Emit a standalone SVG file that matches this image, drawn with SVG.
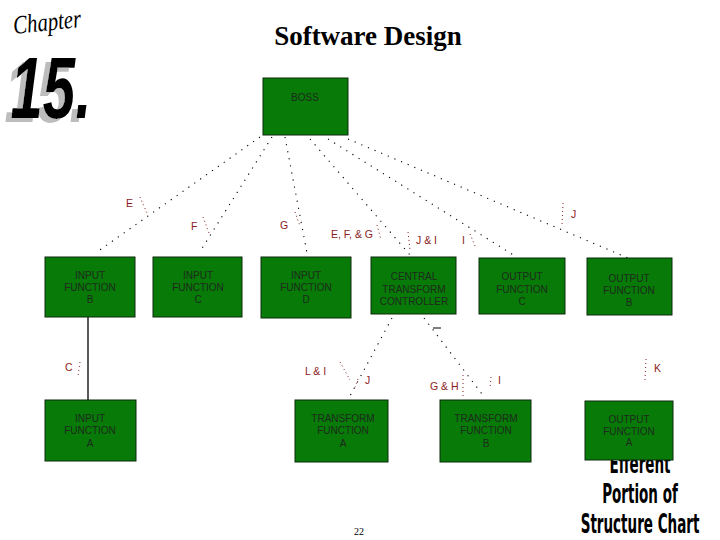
<svg xmlns="http://www.w3.org/2000/svg" width="720" height="540" viewBox="0 0 720 540">
<defs>
  <filter id="shadow" x="-30%" y="-30%" width="160%" height="160%">
    <feFlood flood-color="#bdbdbd" result="g"/>
    <feComposite in="g" in2="SourceAlpha" operator="in" result="gs"/>
    <feOffset in="gs" dx="-9" dy="4" result="off"/>
    <feMerge><feMergeNode in="off"/><feMergeNode in="SourceGraphic"/></feMerge>
  </filter>
</defs>
<style>
.box{fill:#077a07;stroke:#0d2a0d;stroke-width:1}
.bt{font-family:"Liberation Sans",Arial,sans-serif;font-size:10px;fill:#1e2a1e;text-anchor:middle}
.lbl{font-family:"Liberation Sans",Arial,sans-serif;font-size:10.5px;fill:#8b1c1c}
.dot{stroke:#000;stroke-width:1.1;stroke-dasharray:1.2 6;fill:none}
.tick{stroke:#8b1c1c;stroke-width:1;stroke-dasharray:1 3;fill:none}
.solid{stroke:#000;stroke-width:1.3;fill:none}
.eff{font-family:"DejaVu Sans","Liberation Sans",sans-serif;font-weight:bold;font-size:27px;fill:#000;text-anchor:middle}
</style>
<rect width="720" height="540" fill="#fff"/>

<g id="logo">
  <g transform="translate(14,34) rotate(-6) scale(0.8,1)">
    <text x="0" y="0" font-family="Liberation Serif,serif" font-style="italic" font-size="26" fill="#000">Chapter</text>
  </g>
  <g transform="translate(0,118) scale(0.66,1)" filter="url(#shadow)">
    <text x="16" y="0" font-family="Liberation Sans,Arial,sans-serif" font-weight="bold" font-style="italic" font-size="88" fill="#000">15.</text>
  </g>
</g>

<text x="368" y="45" font-family="Liberation Serif,'Times New Roman',serif" font-weight="bold" font-size="27" fill="#000" text-anchor="middle">Software Design</text>

<g id="connectors">
  <line class="dot" x1="260" y1="137" x2="97" y2="252"/>
  <line class="dot" x1="272" y1="137" x2="201" y2="250"/>
  <line class="dot" x1="285" y1="137" x2="307" y2="253"/>
  <line class="dot" x1="310" y1="139" x2="410" y2="255"/>
  <line class="dot" x1="328" y1="139" x2="515" y2="256"/>
  <line class="dot" x1="348" y1="139" x2="628" y2="258"/>
  <line class="solid" x1="88" y1="317" x2="88" y2="400"/>
  <line class="dot" x1="392" y1="318" x2="350" y2="396"/>
  <line class="dot" x1="424" y1="318" x2="485" y2="398"/>
  <line x1="433" y1="328" x2="441" y2="328" stroke="#000" stroke-width="1"/>
  <line class="tick" x1="140" y1="197" x2="147" y2="213"/>
  <line class="tick" x1="203" y1="217" x2="209" y2="233"/>
  <line class="tick" x1="295" y1="212" x2="300" y2="226"/>
  <line class="tick" x1="377" y1="225" x2="381" y2="240"/>
  <line class="tick" x1="408" y1="232" x2="410" y2="250"/>
  <line class="tick" x1="470" y1="234" x2="476" y2="248"/>
  <line class="tick" x1="563" y1="203" x2="562" y2="225"/>
  <line class="tick" x1="80" y1="362" x2="78" y2="376"/>
  <line class="tick" x1="340" y1="362" x2="350" y2="380"/>
  <line class="tick" x1="358" y1="379" x2="354" y2="390"/>
  <line class="tick" x1="463" y1="375" x2="463" y2="397"/>
  <line class="tick" x1="491" y1="377" x2="490" y2="389"/>
  <line class="tick" x1="646" y1="359" x2="645" y2="380"/>
</g>

<g id="labels">
  <text class="lbl" x="126" y="207">E</text>
  <text class="lbl" x="191" y="230">F</text>
  <text class="lbl" x="280" y="229">G</text>
  <text class="lbl" x="331" y="238">E, F, &amp; G</text>
  <text class="lbl" x="416" y="244">J &amp; I</text>
  <text class="lbl" x="462" y="244">I</text>
  <text class="lbl" x="571" y="218">J</text>
  <text class="lbl" x="65" y="371">C</text>
  <text class="lbl" x="305" y="375">L &amp; I</text>
  <text class="lbl" x="365" y="384">J</text>
  <text class="lbl" x="430" y="390">G &amp; H</text>
  <text class="lbl" x="498" y="384">I</text>
  <text class="lbl" x="654" y="372">K</text>
</g>

<g id="efferent">
  <g transform="translate(640,0) scale(0.5,1)">
    <text class="eff" x="0" y="473">Efferent</text>
    <text class="eff" x="0" y="503">Portion of</text>
    <text class="eff" x="0" y="533">Structure Chart</text>
  </g>
</g>

<g id="boss">
  <rect class="box" x="263" y="78" width="85" height="57"/>
  <text class="bt" x="305" y="101">BOSS</text>
</g>
<g id="input-b">
  <rect class="box" x="45" y="257" width="90" height="60"/>
  <text class="bt" x="90" y="279">INPUT</text>
  <text class="bt" x="90" y="291">FUNCTION</text>
  <text class="bt" x="90" y="303">B</text>
</g>
<g id="input-c">
  <rect class="box" x="153" y="257" width="89" height="60"/>
  <text class="bt" x="198" y="279">INPUT</text>
  <text class="bt" x="198" y="291">FUNCTION</text>
  <text class="bt" x="198" y="303">C</text>
</g>
<g id="input-d">
  <rect class="box" x="261" y="257" width="90" height="61"/>
  <text class="bt" x="306" y="279">INPUT</text>
  <text class="bt" x="306" y="291">FUNCTION</text>
  <text class="bt" x="306" y="303">D</text>
</g>
<g id="central">
  <rect class="box" x="371" y="257" width="85" height="57"/>
  <text class="bt" x="414" y="280">CENTRAL</text>
  <text class="bt" x="414" y="293">TRANSFORM</text>
  <text class="bt" x="414" y="305">CONTROLLER</text>
</g>
<g id="output-c">
  <rect class="box" x="479" y="258" width="86" height="56"/>
  <text class="bt" x="522" y="280">OUTPUT</text>
  <text class="bt" x="522" y="293">FUNCTION</text>
  <text class="bt" x="522" y="305">C</text>
</g>
<g id="output-b">
  <rect class="box" x="587" y="258" width="85" height="57"/>
  <text class="bt" x="629" y="282">OUTPUT</text>
  <text class="bt" x="629" y="294">FUNCTION</text>
  <text class="bt" x="629" y="306">B</text>
</g>
<g id="input-a">
  <rect class="box" x="45" y="400" width="91" height="61"/>
  <text class="bt" x="90" y="422">INPUT</text>
  <text class="bt" x="90" y="434">FUNCTION</text>
  <text class="bt" x="90" y="447">A</text>
</g>
<g id="transform-a">
  <rect class="box" x="295" y="400" width="93" height="62"/>
  <text class="bt" x="343" y="422">TRANSFORM</text>
  <text class="bt" x="343" y="434">FUNCTION</text>
  <text class="bt" x="343" y="447">A</text>
</g>
<g id="transform-b">
  <rect class="box" x="440" y="400" width="91" height="62"/>
  <text class="bt" x="486" y="422">TRANSFORM</text>
  <text class="bt" x="486" y="434">FUNCTION</text>
  <text class="bt" x="486" y="447">B</text>
</g>
<g id="output-a">
  <rect class="box" x="585" y="401" width="88" height="59"/>
  <text class="bt" x="629" y="423">OUTPUT</text>
  <text class="bt" x="629" y="435">FUNCTION</text>
  <text class="bt" x="629" y="446">A</text>
</g>

<text x="359" y="535" font-family="Liberation Serif,serif" font-size="10" fill="#000" text-anchor="middle">22</text>
</svg>
